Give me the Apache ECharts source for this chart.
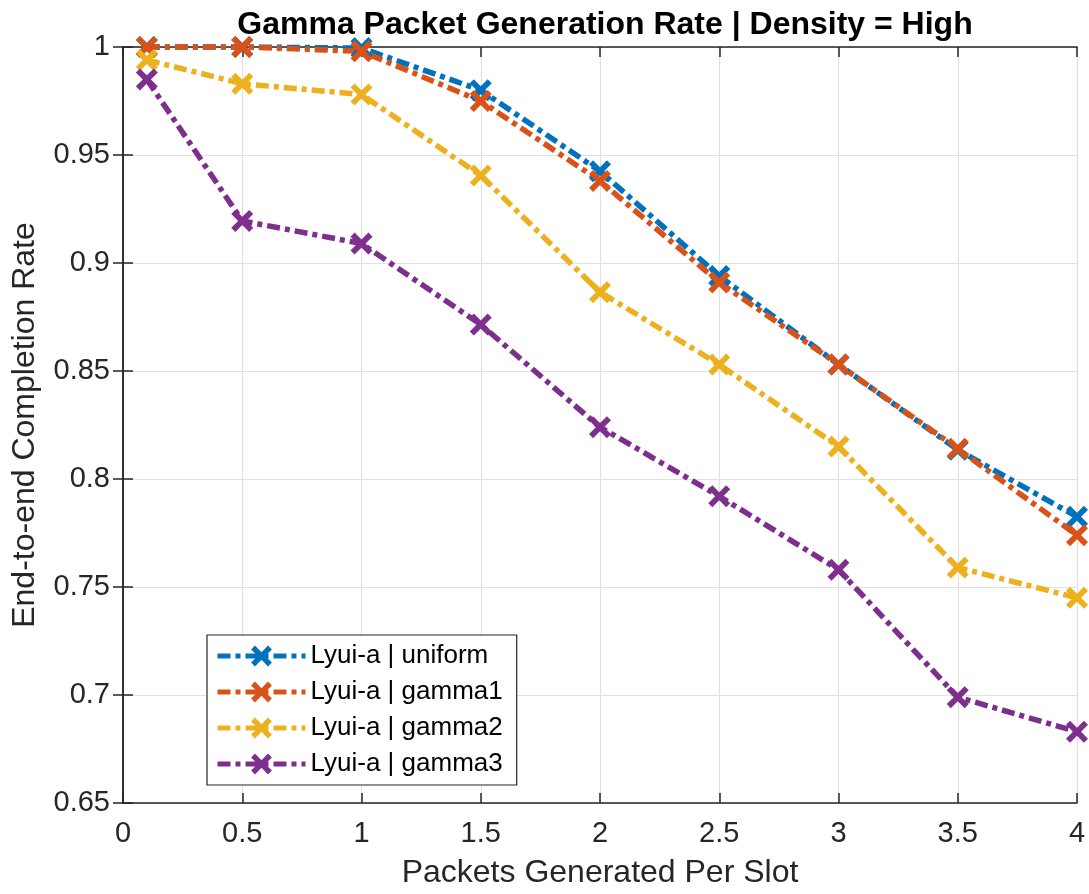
<!DOCTYPE html>
<html>
<head>
<meta charset="utf-8">
<script src="https://cdn.jsdelivr.net/npm/echarts@6/dist/echarts.min.js"></script>
<style>
html,body{margin:0;padding:0;background:#fff;}
#chart{width:1089px;height:894px;}
</style>
</head>
<body>
<div id="chart"></div>
<script>
// ---- data ----
const xValues = [0.1, 0.5, 1, 1.5, 2, 2.5, 3, 3.5, 4];
const seriesNames = ['Lyui-a | uniform', 'Lyui-a | gamma1', 'Lyui-a | gamma2', 'Lyui-a | gamma3'];
const uniformVals = [1.000, 1.000, 0.9995, 0.980, 0.9425, 0.894, 0.853, 0.8135, 0.7825];
const gamma1Vals  = [1.000, 1.000, 0.998, 0.975, 0.938, 0.891, 0.853, 0.814, 0.774];
const gamma2Vals  = [0.994, 0.983, 0.978, 0.9405, 0.8865, 0.853, 0.815, 0.759, 0.745];
const gamma3Vals  = [0.985, 0.9195, 0.909, 0.8715, 0.824, 0.792, 0.758, 0.699, 0.683];
const titleText = 'Gamma Packet Generation Rate | Density = High';
const xAxisName = 'Packets Generated Per Slot';
const yAxisName = 'End-to-end Completion Rate';

// ---- styling ----
const colors = ['#0072BD', '#D95319', '#EDB120', '#7E2F8E'];
const FONT = '"Liberation Sans", Arial, Helvetica, sans-serif';
const AX = '#262626';
const xSymbol = 'path://M0,3.7 L3.7,0 L10,6.3 L16.3,0 L20,3.7 L13.7,10 L20,16.3 L16.3,20 L10,13.7 L3.7,20 L0,16.3 L6.3,10 Z';
const allVals = [uniformVals, gamma1Vals, gamma2Vals, gamma3Vals];

function fmt(v){ return String(Math.round(v*1000)/1000); }

const series = allVals.map((vals, i) => ({
  name: seriesNames[i],
  type: 'line',
  data: xValues.map((x, j) => [x, vals[j]]),
  symbol: xSymbol,
  symbolSize: 22,
  clip: false,
  color: colors[i],
  itemStyle: {color: colors[i]},
  lineStyle: {color: colors[i], width: 5.5, type: [13, 5, 5, 5]},
  emphasis: {disabled: true},
  animation: false
}));

const baseAxis = {
  axisLine: {show: true, lineStyle: {color: AX, width: 1.5}},
  axisTick: {show: true, inside: true, length: 10, lineStyle: {color: AX, width: 1.5}},
};

const option = {
  backgroundColor: '#fff',
  animation: false,
  title: {
    text: titleText,
    left: 600, textAlign: 'center', top: 4,
    textStyle: {fontFamily: FONT, fontSize: 32, fontWeight: 'bold', color: '#000'}
  },
  grid: {left: 123, top: 47, right: 12, bottom: 91, containLabel: false},
  legend: {
    orient: 'vertical',
    left: 207, top: 635,
    padding: [8, 14, 8, 8],
    itemWidth: 88, itemHeight: 26, itemGap: 10,
    backgroundColor: '#fff',
    borderColor: AX, borderWidth: 1.2,
    lineStyle: {width: 5},
    textStyle: {fontFamily: FONT, fontSize: 26, color: '#000'},
    data: seriesNames
  },
  xAxis: [
    Object.assign({}, baseAxis, {
      type: 'value', min: 0, max: 4, interval: 0.5, position: 'bottom',
      name: xAxisName, nameLocation: 'middle', nameGap: 54,
      nameTextStyle: {fontFamily: FONT, fontSize: 32, color: AX},
      axisLabel: {fontFamily: FONT, fontSize: 29, color: AX, margin: 16, formatter: fmt},
      splitLine: {show: true, lineStyle: {color: '#e1e1e1', width: 1.2}}
    }),
    Object.assign({}, baseAxis, {
      type: 'value', min: 0, max: 4, interval: 0.5, position: 'top',
      axisLabel: {show: false}, splitLine: {show: false}
    })
  ],
  yAxis: [
    Object.assign({}, baseAxis, {
      type: 'value', min: 0.65, max: 1, interval: 0.05, position: 'left',
      name: yAxisName, nameLocation: 'middle', nameGap: 82,
      nameTextStyle: {fontFamily: FONT, fontSize: 32, color: AX},
      axisLabel: {fontFamily: FONT, fontSize: 29, color: AX, margin: 13, formatter: fmt},
      splitLine: {show: true, lineStyle: {color: '#e1e1e1', width: 1.2}}
    }),
    Object.assign({}, baseAxis, {
      type: 'value', min: 0.65, max: 1, interval: 0.05, position: 'right',
      axisLabel: {show: false}, splitLine: {show: false}
    })
  ],
  series: series
};

const chart = echarts.init(document.getElementById('chart'), null, {renderer: 'canvas'});
chart.setOption(option);
</script>
</body>
</html>
